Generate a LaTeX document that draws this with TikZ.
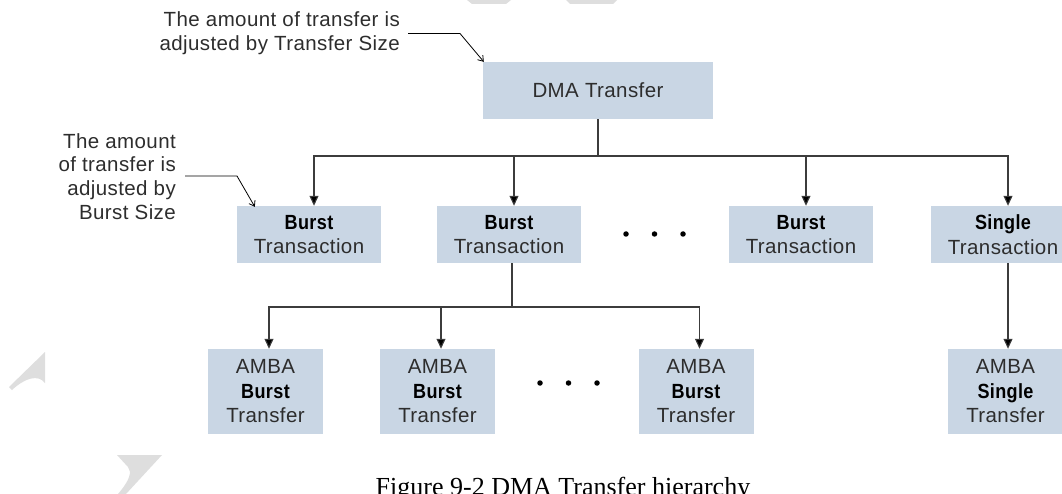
\documentclass[tikz,border=0pt]{standalone}
\usepackage{fontspec}
\usepackage{graphicx}
\setmainfont{Liberation Sans}[LetterSpace=2]
\newfontfamily\capfont{Liberation Serif}
\usetikzlibrary{arrows.meta}

\definecolor{boxfill}{RGB}{201,214,228}
\definecolor{txtgray}{RGB}{45,45,45}
\definecolor{wmgray}{RGB}{222,222,222}
\definecolor{linegray}{RGB}{60,60,60}

% bold keyword inside a box, slightly condensed
\newcommand{\kw}[1]{{\color{black}\bfseries\scalebox{0.88}[1]{#1}}}

\tikzset{
  box/.style={fill=boxfill, draw=none, inner sep=0pt, align=center,
    text=txtgray, font=\fontsize{20.5}{24.5}\selectfont},
  midbox/.style={box, minimum width=144pt, minimum height=57pt},
  lowbox/.style={box, minimum width=115pt, minimum height=85pt},
  wire/.style={draw=linegray, line width=1.1pt},
  arr/.style={wire, -{Triangle[length=10pt,width=9pt,fill=black]}},
  note/.style={inner sep=0pt, align=right, text=txtgray,
    font=\fontsize{20.5}{23.8}\selectfont},
  notearr/.style={draw=black, line width=0.8pt, -{Straight Barb[length=5pt,width=7pt]}},
  dot/.style={fill=black, circle, inner sep=0pt, minimum size=5.5pt}
}

\begin{document}
\begin{tikzpicture}[x=1pt, y=-1pt]
\useasboundingbox (0,0) rectangle (1062,494);

% faint background marks
\fill[wmgray] (45,352) -- (9,387) -- (12,390) .. controls (25,378) and (38,374) .. (45,383) -- cycle;
\fill[wmgray] (117,455) -- (162,455) -- (126,494) -- (118,494) .. controls (130,480) and (132,472) .. (128,467) -- cycle;
\fill[wmgray] (467,0) -- (511,0) -- (506,4) -- (472,4) -- cycle;
\fill[wmgray] (566,0) -- (617,0) -- (613,4) -- (570,4) -- cycle;

% boxes
\node[box, minimum width=230pt, minimum height=57pt] (dma) at (598,90.5) {DMA Transfer};

\node[midbox] (t1) at (309,234.5) {\kw{Burst}\\Transaction};
\node[midbox] (t2) at (509,234.5) {\kw{Burst}\\Transaction};
\node[midbox] (t3) at (801,234.5) {\kw{Burst}\\Transaction};
\node[midbox] (t4) at (1003,234.5) {\kw{Single}\\Transaction};

\node[lowbox] (a1) at (265.5,391.5) {AMBA\\\kw{Burst}\\Transfer};
\node[lowbox] (a2) at (437.5,391.5) {AMBA\\\kw{Burst}\\Transfer};
\node[lowbox] (a3) at (696,391.5) {AMBA\\\kw{Burst}\\Transfer};
\node[lowbox] (a4) at (1005.5,391.5) {AMBA\\\kw{Single}\\Transfer};

% ellipses between boxes
\node[dot] (d1) at (626,234) {};
\node[dot] (d2) at (654.5,234) {};
\node[dot] (d3) at (683,234) {};
\node[dot] (e1) at (540,383) {};
\node[dot] (e2) at (568.5,383) {};
\node[dot] (e3) at (597,383) {};

% DMA transfer to transactions
\coordinate (j1) at (598,156);
\draw[wire] (dma.south) -- (j1);
\foreach \n in {t1,t2,t3,t4}
  \draw[arr] (j1) -| ([xshift=5pt]\n.north);

% burst transaction to AMBA burst transfers
\coordinate (j2) at (512,307);
\draw[wire] ([xshift=3pt]t2.south) -- (j2);
\foreach \n in {a1,a2,a3}
  \draw[arr] (j2) -| ([xshift=3.5pt]\n.north);

% single transaction to AMBA single transfer
\draw[arr] ([xshift=5pt]t4.south) -- ([xshift=5pt]t4.south |- a4.north);

% annotations
\node[note, anchor=east] (n1) at (400,33.5) {The amount of transfer is\\adjusted by Transfer Size};
\draw[notearr] ([xshift=8pt]n1.east) -- ++(52,0) -- ([xshift=1pt]dma.north west);

\node[note, anchor=east] (n2) at (176,176.5) {The amount\\of transfer is\\adjusted by\\Burst Size};
\draw[notearr] ([xshift=9pt,yshift=0.5pt]n2.east) -- ++(52,0) -- ([xshift=18pt,yshift=-1pt]t1.north west);

% caption
\node[anchor=base, inner sep=0pt, font=\capfont\fontsize{26}{26}\selectfont] (cap) at (563,495.5) {Figure 9-2 DMA Transfer hierarchy};
\end{tikzpicture}
\end{document}
